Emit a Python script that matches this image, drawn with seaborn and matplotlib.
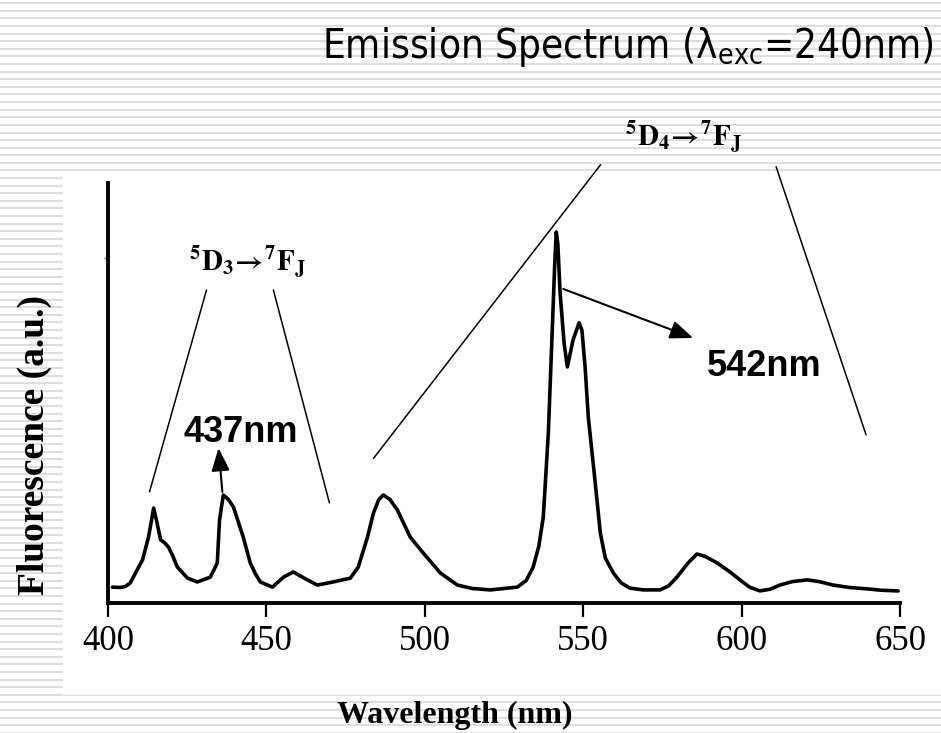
import numpy as np
import matplotlib
matplotlib.use("Agg")
import matplotlib.pyplot as plt
from matplotlib.patches import Rectangle
import seaborn as sns

# spectrum (wavelength in nm, fluorescence in a.u.)
wavelength = [401.4, 404.0, 405.5, 407.0, 408.0, 410.9, 412.8, 414.4, 415.3, 416.6,
              417.8, 419.1, 420.5, 421.9, 425.1, 428.2, 432.3, 434.5, 435.2, 436.4,
              438.0, 439.6, 442.7, 444.9, 446.5, 448.1, 451.9, 455.4, 458.5, 462.9,
              466.1, 471.1, 476.5, 479.0, 481.9, 483.8, 485.5, 486.9, 489.0, 491.3,
              495.4, 499.5, 504.9, 510.3, 515.0, 520.7, 529.2, 532.0, 534.2, 536.0,
              537.4, 539.0, 540.2, 541.0, 541.5, 542.0, 542.7, 544.0, 545.0, 546.8,
              548.7, 549.6, 550.6, 551.6, 553.8, 555.4, 557.0, 559.5, 562.0, 564.8,
              569.0, 574.3, 577.0, 579.6, 583.1, 585.9, 588.5, 592.3, 596.0, 599.5,
              602.5, 605.8, 609.0, 612.1, 616.0, 620.7, 624.5, 628.9, 634.0, 639.6,
              644.0, 649.4]
fluorescence = [0.046, 0.045, 0.048, 0.058, 0.075, 0.125, 0.191, 0.275, 0.240, 0.183,
                0.175, 0.162, 0.135, 0.104, 0.072, 0.061, 0.075, 0.116, 0.240, 0.313,
                0.300, 0.278, 0.191, 0.116, 0.085, 0.061, 0.046, 0.075, 0.090, 0.067,
                0.052, 0.061, 0.072, 0.104, 0.191, 0.261, 0.300, 0.313, 0.300, 0.270,
                0.191, 0.145, 0.087, 0.052, 0.042, 0.038, 0.046, 0.065, 0.104, 0.165,
                0.249, 0.493, 0.783, 0.980, 1.075, 1.040, 0.899, 0.750, 0.684, 0.762,
                0.812, 0.790, 0.684, 0.539, 0.348, 0.203, 0.130, 0.087, 0.058, 0.043,
                0.038, 0.038, 0.050, 0.075, 0.116, 0.142, 0.135, 0.116, 0.092, 0.067,
                0.046, 0.035, 0.040, 0.052, 0.062, 0.067, 0.062, 0.052, 0.045, 0.041,
                0.037, 0.035]
x_ticks = [400, 450, 500, 550, 600, 650]

sns.set_style("ticks")
plt.rcParams['font.family'] = ['Liberation Serif', 'DejaVu Serif']
plt.rcParams['text.color'] = 'black'
plt.rcParams['axes.labelcolor'] = 'black'
plt.rcParams['xtick.color'] = 'black'
plt.rcParams['ytick.color'] = 'black'

W, H = 941, 733
fig = plt.figure(figsize=(W / 100, H / 100), dpi=100)
fig.patch.set_facecolor('white')

# slide background: thin grey stripes, white box behind the chart image
bg = fig.add_axes([0, 0, 1, 1], zorder=0)
bg.set_xlim(0, W)
bg.set_ylim(H, 0)
bg.axis('off')
bg.hlines(np.arange(3.3, H, 7.6), 0, W, color='#dedede', lw=1.5, zorder=1)
bg.add_patch(Rectangle((63, 173), W - 63, 522, facecolor='white', edgecolor='none',
                       zorder=3))

# main axes
ax = fig.add_axes([108 / W, (H - 603) / H, (900 - 108) / W, (603 - 183) / H], zorder=1)
ax.patch.set_alpha(0)
sns.lineplot(x=wavelength, y=fluorescence, ax=ax, color='black', lw=2.6,
             estimator=None, sort=False)
ax.set_xlim(400, 650)
ax.set_ylim(0, 1.217)
ax.set_xticks(x_ticks)
ax.set_xticklabels([str(t) for t in x_ticks], fontsize=25, family='Liberation Serif')
ax.set_yticks([1.0])
ax.set_yticklabels([''])
ax.tick_params(axis='x', direction='out', length=10, width=1.6, pad=6)
ax.tick_params(axis='y', direction='out', length=3, width=1, color='#555555')
for s in ['top', 'right']:
    ax.spines[s].set_visible(False)
for s in ['left', 'bottom']:
    ax.spines[s].set_linewidth(2.8)
    ax.spines[s].set_color('black')

ax.set_xlabel('Wavelength (nm)', fontsize=23, fontweight='bold')
ax.xaxis.set_label_coords((455 - 108) / 792, (603 - 715) / 420)
ax.xaxis.label.set_va('center')
ax.set_ylabel('Fluorescence (a.u.)', fontsize=27, fontweight='bold')
ax.yaxis.set_label_coords((34 - 108) / 792, (603 - 445) / 420)
ax.yaxis.label.set_va('center')

# title
fig.text(934 / W, (H - 58) / H, 'Emission Spectrum (λ$_{\\mathregular{exc}}$=240nm)',
         ha='right', va='baseline', fontsize=29, family='DejaVu Sans',
         fontstretch='condensed', math_fontfamily='dejavusans')

# annotations
line_kw = dict(arrowstyle='-', lw=1.1, color='black', shrinkA=0, shrinkB=0)
arrow_kw = dict(arrowstyle='-|>,head_length=0.7,head_width=0.28', mutation_scale=20,
                lw=1.5, color='black', shrinkA=0, shrinkB=0)

ax.text(444.0, 0.986, r'$\mathbf{{}^{5}D_{3}\!\rightarrow\!{}^{7}F_{J}}$', ha='center',
        va='center', fontsize=21, math_fontfamily='stix')
ax.annotate('', xy=(413.1, 0.322), xytext=(431.1, 0.907), arrowprops=line_kw)
ax.annotate('', xy=(469.9, 0.290), xytext=(452.2, 0.907), arrowprops=line_kw)

ax.text(441.8, 0.493, '437nm', ha='center', va='center', fontsize=26,
        fontweight='bold', family='Liberation Sans')
ax.annotate('', xy=(434.9, 0.449), xytext=(436.1, 0.322), arrowprops=arrow_kw)

ax.text(607.1, 0.684, '542nm', ha='center', va='center', fontsize=26,
        fontweight='bold', family='Liberation Sans')
ax.annotate('', xy=(584.7, 0.768), xytext=(543.7, 0.910), arrowprops=arrow_kw)

ax.text(581.6, 1.348, r'$\mathbf{{}^{5}D_{4}\!\rightarrow\!{}^{7}F_{J}}$', ha='center',
        va='center', fontsize=21, math_fontfamily='stix', clip_on=False)
ax.annotate('', xy=(483.8, 0.419), xytext=(555.5, 1.27), arrowprops=line_kw,
            annotation_clip=False)
ax.annotate('', xy=(639.3, 0.487), xytext=(610.9, 1.264), arrowprops=line_kw,
            annotation_clip=False)

fig.savefig('out.png', dpi=100, facecolor='white')
